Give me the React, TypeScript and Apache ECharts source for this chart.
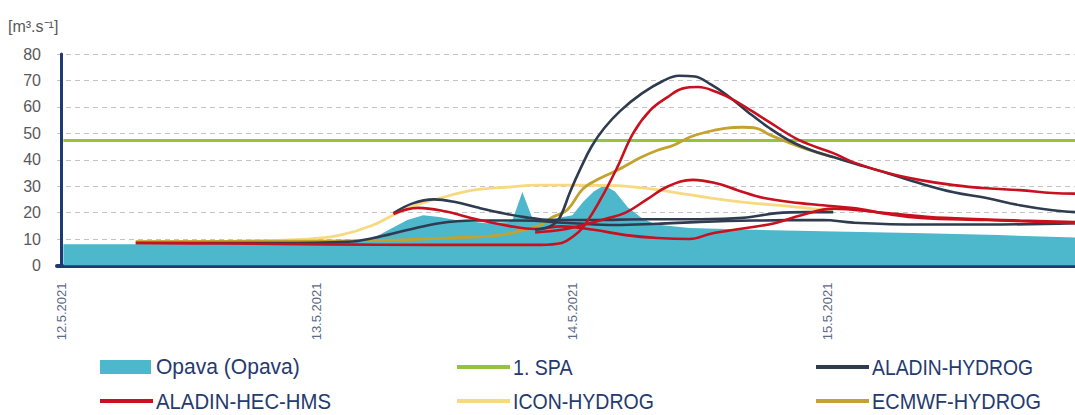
import React, { useEffect, useRef } from "react";
import * as echarts from "echarts";

// x values are hours since 12.5.2021 00:00
const tickHours = [0, 24, 48, 72];
const tickLabels = ["12.5.2021", "13.5.2021", "14.5.2021", "15.5.2021"];

const opava: [number, number][] = [
  [0.2, 8], [10, 8], [20, 8], [27, 8.5], [29.3, 10.4], [31, 14], [32.5, 17.2], [34, 19],
  [35.5, 18.3], [37, 17.2], [40, 16], [42, 16.5], [42.4, 17.5], [43.3, 27.8], [44.2, 18.3],
  [45.6, 17.2], [48, 19], [49, 24], [50, 28], [51, 30.4], [52, 28], [53.2, 22], [54.5, 18],
  [55.8, 15.5], [59, 14.2], [65, 13.5], [71.5, 13], [80, 12.3], [88, 11.5], [95.2, 10.6],
];

const spa: [number, number][] = [[0.2, 47.3], [95.2, 47.3]];

const aladinHydrog1: [number, number][] = [
  [44.5, 13.5], [46, 15], [46.8, 18], [47.8, 28], [48.8, 37], [49.8, 45], [51, 52], [52.5, 58.5],
  [54.5, 65], [56.5, 69.8], [58, 71.8], [59.5, 71.5], [61, 68.5], [62.5, 64.5], [64.5, 58],
  [66.5, 52], [68.5, 47], [70.5, 43.5], [72.5, 41], [74.4, 38.7], [77.6, 34.9], [80.7, 31],
  [83.8, 27.7], [86.9, 25.5], [90, 22.8], [93.1, 20.9], [95.2, 20.2],
];
const aladinHydrog2: [number, number][] = [
  [31.2, 19.8], [33, 23.5], [35, 25], [37, 24], [39, 22], [41.2, 20], [43.5, 18.3], [46, 17.2],
  [50, 17.2], [55, 17.5], [60, 17.5], [64, 18], [67.2, 19.8], [70, 20.2], [72.5, 20.2],
];
const aladinHydrog3: [number, number][] = [
  [7, 8.5], [20, 8.5], [27, 9], [29.3, 10.4], [32.5, 13.4], [35.5, 16], [38.7, 17], [43, 17],
  [48, 16], [52, 15.3], [56, 15.8], [60, 16.5], [65, 17], [71.5, 17.2], [74.4, 16.2],
  [80.7, 15.5], [86.9, 15.5], [95.2, 16],
];

const hecHms1: [number, number][] = [
  [7, 8.5], [15, 8.3], [25, 8], [35, 7.8], [45, 7.8], [47, 8.5], [48, 10.8], [49, 14.5],
  [50.6, 24.7], [52.2, 37], [53.7, 50], [55.3, 58.7], [56.9, 63.6], [58.4, 67], [59.8, 67.5],
  [61.6, 65.5], [63.2, 62.5], [66.2, 55], [69.3, 47.4], [72.5, 42.5], [74.4, 39], [77.6, 35],
  [80.7, 32.3], [83.8, 30.4], [86.9, 29.2], [90, 28.5], [93.1, 27.4], [95.2, 27.2],
];
const hecHms2: [number, number][] = [
  [44.5, 12.5], [47, 13.5], [49, 15.3], [51, 17.5], [53, 20], [55, 25], [57, 30], [59.3, 32.4],
  [61.6, 31], [63.5, 28.5], [66, 25.5], [69.4, 23.6], [71.5, 22.8], [74.4, 21.7], [77.6, 19.5],
  [80.7, 18], [86.9, 17.2], [95.2, 16],
];
const hecHms3: [number, number][] = [
  [31.2, 19.5], [33.5, 21.8], [36, 20.5], [39, 17.5], [42, 15], [44.5, 13.8], [47, 14.8],
  [50, 13.5], [53, 11.5], [56, 10.4], [59, 10], [61, 12], [64, 14], [67, 16], [69.5, 19],
  [72.5, 21.5], [77, 20], [83, 18], [90, 17], [95.2, 16.4],
];

const iconHydrog: [number, number][] = [
  [7, 9], [18, 9.3], [23, 10], [26.2, 11.5], [29.3, 15.3], [32.5, 21.7], [35.6, 25.5],
  [38.7, 28.5], [41.8, 29.6], [44.8, 30.4], [48.5, 30.4], [52, 30.2], [55, 29.2], [58, 27.4],
  [61, 25.5], [64, 24], [67.2, 22.8], [70.5, 21.5], [72.5, 20.8],
];

const ecmwfHydrog: [number, number][] = [
  [7, 9], [20, 9.2], [30, 9.5], [36.5, 10.4], [41.2, 11.5], [43.4, 13.4], [45, 15.3], [46, 18],
  [47.5, 21], [49, 29], [50.6, 33], [52.2, 36], [54.5, 41], [56, 43.6], [57.5, 45.5], [59, 48.5],
  [60.5, 50.4], [62.3, 51.9], [64, 52.3], [65.3, 51.9], [66.5, 49.5], [68, 47], [70, 44], [72.5, 41],
];

// legend entries: name, kind of key
const legendNames = [
  "Opava (Opava)", "1. SPA", "ALADIN-HYDROG",
  "ALADIN-HEC-HMS", "ICON-HYDROG", "ECMWF-HYDROG",
];

const C_AREA = "#4db7cc";
const C_GREEN = "#92c441";
const C_DARK = "#2f3b4f";
const C_RED = "#c8101e";
const C_YELLOW = "#f7da80";
const C_OLIVE = "#c4a22e";

const legendColors = [C_AREA, C_GREEN, C_DARK, C_RED, C_YELLOW, C_OLIVE];
const legendScale = [0.957, 0.89, 0.879, 0.924, 0.887, 0.904];

function line(name: string, data: [number, number][], color: string, width = 2.6) {
  return {
    type: "line",
    name,
    data,
    smooth: 0.4,
    symbol: "none",
    color,
    lineStyle: { color, width },
  };
}

export default function App() {
  const ref = useRef<HTMLDivElement>(null);
  useEffect(() => {
    if (!ref.current) return;
    const chart = echarts.init(ref.current, undefined, { renderer: "svg" });
    const font = "'Liberation Sans', Arial, sans-serif";
    const colX = [100, 457, 816];
    const rowY = [367, 401];
    const legendGraphics: any[] = [];
    legendNames.forEach((name, i) => {
      const cx = colX[i % 3];
      const cy = rowY[Math.floor(i / 3)];
      if (i === 0) {
        legendGraphics.push({
          type: "rect",
          shape: { x: cx, y: cy - 7, width: 51, height: 14 },
          style: { fill: legendColors[i] },
        });
      } else {
        legendGraphics.push({
          type: "line",
          shape: { x1: cx, y1: cy, x2: cx + 53, y2: cy },
          style: { stroke: legendColors[i], lineWidth: 4 },
        });
      }
      legendGraphics.push({
        type: "text",
        x: cx + 56,
        y: cy,
        scaleX: legendScale[i],
        style: {
          text: name,
          fontSize: 22,
          fontFamily: font,
          fill: "#253a6e",
          align: "left",
          verticalAlign: "middle",
          textAlign: "left",
          textVerticalAlign: "middle",
        },
      });
    });

    chart.setOption({
      animation: false,
      backgroundColor: "#ffffff",
      textStyle: { fontFamily: font },
      grid: { left: 57, top: 54, right: 0, bottom: 149.5 },
      graphic: [
        {
          type: "text",
          left: 8,
          top: 18,
          style: { text: "[m³.s⁻¹]", fontSize: 16, fill: "#595959", fontFamily: font },
        },
        ...legendGraphics,
      ],
      xAxis: {
        type: "value",
        min: -0.4,
        max: 95.2,
        axisLine: { show: true, lineStyle: { color: "#1f3a72", width: 4 } },
        axisTick: { show: false },
        splitLine: { show: false },
        axisLabel: {
          customValues: tickHours,
          rotate: 90,
          margin: 17,
          fontSize: 13,
          color: "#5a6a88",
          formatter: (v: number) => {
            const i = tickHours.indexOf(Math.round(v));
            return i >= 0 ? tickLabels[i] : "";
          },
        },
      },
      yAxis: {
        type: "value",
        min: 0,
        max: 80,
        interval: 10,
        axisLine: { show: true, lineStyle: { color: "#1f3a72", width: 3 } },
        axisTick: { show: false },
        axisLabel: { fontSize: 16, color: "#595959", margin: 16 },
        splitLine: { show: true, lineStyle: { color: "#c4c4c4", width: 1, type: [5, 4] } },
      },
      series: [
        {
          type: "line",
          name: "Opava (Opava)",
          data: opava,
          symbol: "none",
          color: C_AREA,
          lineStyle: { width: 0, color: C_AREA },
          areaStyle: { color: C_AREA, opacity: 1 },
          z: 1,
        },
        { ...line("1. SPA", spa, C_GREEN, 3), smooth: false },
        line("ICON-HYDROG", iconHydrog, C_YELLOW, 2.8),
        line("ECMWF-HYDROG", ecmwfHydrog, C_OLIVE, 2.8),
        line("ALADIN-HYDROG", aladinHydrog3, C_DARK),
        line("ALADIN-HYDROG", aladinHydrog2, C_DARK),
        line("ALADIN-HEC-HMS", hecHms3, C_RED),
        line("ALADIN-HEC-HMS", hecHms2, C_RED),
        line("ALADIN-HYDROG", aladinHydrog1, C_DARK),
        line("ALADIN-HEC-HMS", hecHms1, C_RED),
      ],
    });
    return () => chart.dispose();
  }, []);
  return (
    <div
      ref={ref}
      style={{ position: "absolute", left: 0, top: 0, width: 1075, height: 415 }}
    />
  );
}
